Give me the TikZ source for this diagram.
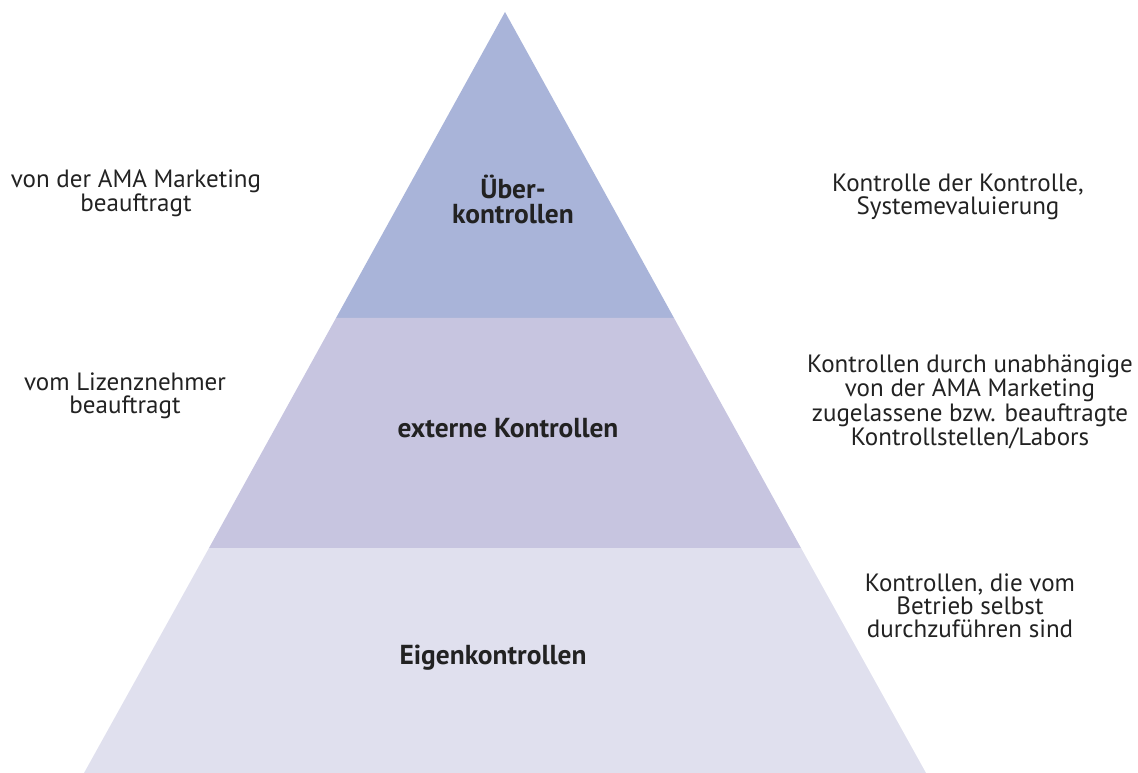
\documentclass[tikz,border=0pt]{standalone}
\usepackage{fontspec}
\setmainfont{PT Sans}
\definecolor{topband}{HTML}{A9B4D9}
\definecolor{midband}{HTML}{C7C5E0}
\definecolor{lowband}{HTML}{E0E0EE}
\definecolor{textgray}{HTML}{222222}

\begin{document}
\begin{tikzpicture}[x=0.025cm,y=-0.025cm,
    level/.style={font=\bfseries\fontsize{19.5}{17.8}\selectfont,text=textgray,align=center},
    note/.style={font=\fontsize{17.8}{16.2}\selectfont,text=textgray,align=center}]
    \useasboundingbox (0,0) rectangle (1138,773);
    % define the corners.
    \coordinate (apex) at (505,12);
    \coordinate (l1) at (336,318);
    \coordinate (r1) at (674,318);
    \coordinate (l2) at (209,548);
    \coordinate (r2) at (801,548);
    \coordinate (l3) at (84,773);
    \coordinate (r3) at (926,773);
    % draw the bands
    \fill[topband] (apex) -- (r1) -- (l1) -- cycle;
    \fill[midband] (l1) -- (r1) -- (r2) -- (l2) -- cycle;
    \fill[lowband] (l2) -- (r2) -- (r3) -- (l3) -- cycle;
    % draw the level names
    \node[level] (ueber) at (513,199) {Über-\\kontrollen};
    \node[level] (extern) at (508,428) {externe Kontrollen};
    \node[level] (eigen) at (493,658) {Eigenkontrollen};
    % draw the notes
    \node[note] (ama) at (136,193) {von der AMA Marketing\\beauftragt};
    \node[note] (lizenz) at (125,396) {vom Lizenznehmer\\beauftragt};
    \node[note] (system) at (958,197) {Kontrolle der Kontrolle,\\Systemevaluierung};
    \node[note] (stellen) at (970,402) {Kontrollen durch unabhängige\\von der AMA Marketing\\zugelassene bzw. beauftragte\\Kontrollstellen/Labors};
    \node[note] (betrieb) at (970,606) {Kontrollen, die vom\\Betrieb selbst\\durchzuführen sind};
\end{tikzpicture}
\end{document}
